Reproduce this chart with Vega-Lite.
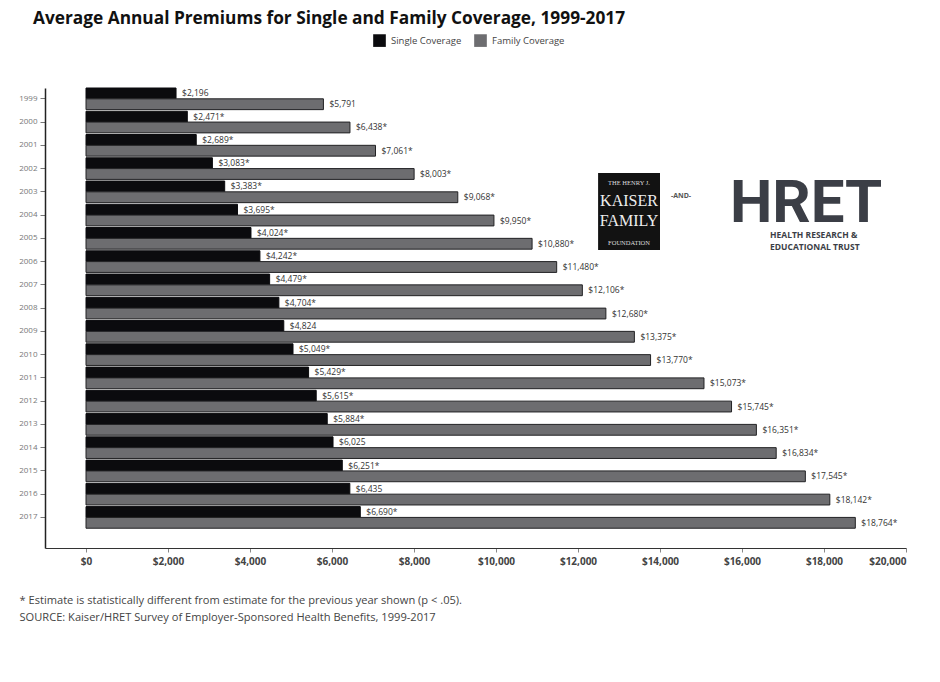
{
  "$schema": "https://vega.github.io/schema/vega-lite/v6.json",
  "autosize": {"type": "none"},
  "width": 861,
  "height": 460,
  "padding": {"left": 45, "top": 88, "right": 34, "bottom": 134},
  "background": "white",
  "title": {
    "text": "Average Annual Premiums for Single and Family Coverage, 1999-2017",
    "anchor": "start",
    "frame": "group",
    "dx": -12,
    "offset": 7,
    "font": "Open Sans",
    "fontSize": 17.3,
    "fontWeight": "bold",
    "color": "#111"
  },
  "config": {
    "view": {"stroke": null},
    "font": "Open Sans"
  },
  "layer": [
    {
      "data": {
        "values": [
          {"year": "1999", "series": "Single Coverage", "value": 2196, "label": "$2,196"},
          {"year": "1999", "series": "Family Coverage", "value": 5791, "label": "$5,791"},
          {"year": "2000", "series": "Single Coverage", "value": 2471, "label": "$2,471*"},
          {"year": "2000", "series": "Family Coverage", "value": 6438, "label": "$6,438*"},
          {"year": "2001", "series": "Single Coverage", "value": 2689, "label": "$2,689*"},
          {"year": "2001", "series": "Family Coverage", "value": 7061, "label": "$7,061*"},
          {"year": "2002", "series": "Single Coverage", "value": 3083, "label": "$3,083*"},
          {"year": "2002", "series": "Family Coverage", "value": 8003, "label": "$8,003*"},
          {"year": "2003", "series": "Single Coverage", "value": 3383, "label": "$3,383*"},
          {"year": "2003", "series": "Family Coverage", "value": 9068, "label": "$9,068*"},
          {"year": "2004", "series": "Single Coverage", "value": 3695, "label": "$3,695*"},
          {"year": "2004", "series": "Family Coverage", "value": 9950, "label": "$9,950*"},
          {"year": "2005", "series": "Single Coverage", "value": 4024, "label": "$4,024*"},
          {"year": "2005", "series": "Family Coverage", "value": 10880, "label": "$10,880*"},
          {"year": "2006", "series": "Single Coverage", "value": 4242, "label": "$4,242*"},
          {"year": "2006", "series": "Family Coverage", "value": 11480, "label": "$11,480*"},
          {"year": "2007", "series": "Single Coverage", "value": 4479, "label": "$4,479*"},
          {"year": "2007", "series": "Family Coverage", "value": 12106, "label": "$12,106*"},
          {"year": "2008", "series": "Single Coverage", "value": 4704, "label": "$4,704*"},
          {"year": "2008", "series": "Family Coverage", "value": 12680, "label": "$12,680*"},
          {"year": "2009", "series": "Single Coverage", "value": 4824, "label": "$4,824"},
          {"year": "2009", "series": "Family Coverage", "value": 13375, "label": "$13,375*"},
          {"year": "2010", "series": "Single Coverage", "value": 5049, "label": "$5,049*"},
          {"year": "2010", "series": "Family Coverage", "value": 13770, "label": "$13,770*"},
          {"year": "2011", "series": "Single Coverage", "value": 5429, "label": "$5,429*"},
          {"year": "2011", "series": "Family Coverage", "value": 15073, "label": "$15,073*"},
          {"year": "2012", "series": "Single Coverage", "value": 5615, "label": "$5,615*"},
          {"year": "2012", "series": "Family Coverage", "value": 15745, "label": "$15,745*"},
          {"year": "2013", "series": "Single Coverage", "value": 5884, "label": "$5,884*"},
          {"year": "2013", "series": "Family Coverage", "value": 16351, "label": "$16,351*"},
          {"year": "2014", "series": "Single Coverage", "value": 6025, "label": "$6,025"},
          {"year": "2014", "series": "Family Coverage", "value": 16834, "label": "$16,834*"},
          {"year": "2015", "series": "Single Coverage", "value": 6251, "label": "$6,251*"},
          {"year": "2015", "series": "Family Coverage", "value": 17545, "label": "$17,545*"},
          {"year": "2016", "series": "Single Coverage", "value": 6435, "label": "$6,435"},
          {"year": "2016", "series": "Family Coverage", "value": 18142, "label": "$18,142*"},
          {"year": "2017", "series": "Single Coverage", "value": 6690, "label": "$6,690*"},
          {"year": "2017", "series": "Family Coverage", "value": 18764, "label": "$18,764*"}
        ]
      },
      "encoding": {
        "y": {
          "field": "year",
          "type": "nominal",
          "scale": {"type": "band", "paddingInner": 0.07, "paddingOuter": 0.425, "align": 0},
          "axis": {
            "title": null,
            "labelFontSize": 8,
            "labelColor": "#777",
            "labelPadding": 3,
            "tickColor": "#777",
            "tickSize": 5,
            "domainColor": "#222",
            "domainWidth": 1.5
          }
        },
        "yOffset": {"field": "series", "type": "nominal", "sort": ["Single Coverage", "Family Coverage"], "scale": {"paddingInner": 0, "paddingOuter": 0}},
        "x": {
          "field": "value",
          "type": "quantitative",
          "scale": {"domain": [-1000, 20000], "nice": false, "zero": false},
          "axis": {
            "values": [0, 2000, 4000, 6000, 8000, 10000, 12000, 14000, 16000, 18000, 20000],
            "labelExpr": "'$' + format(datum.value, ',')",
            "labelFontSize": 10,
            "labelFontWeight": "bold",
            "labelColor": "#444",
            "labelPadding": 4,
            "tickColor": "#888",
            "tickSize": 4,
            "grid": false,
            "domainColor": "#333",
            "domainWidth": 1.2,
            "title": ["* Estimate is statistically different from estimate for the previous year shown (p < .05).", "SOURCE: Kaiser/HRET Survey of Employer-Sponsored Health Benefits, 1999-2017"],
            "titleAnchor": "start",
            "titleAlign": "left",
            "titleBaseline": "top",
            "titleX": -26,
            "titleY": 46,
            "titleFontSize": 11.1,
            "titleFontWeight": "normal",
            "titleColor": "#444",
            "titleLineHeight": 17
          }
        }
      },
      "layer": [
        {
          "mark": {"type": "bar", "strokeWidth": 1},
          "encoding": {
            "x2": {"datum": 0},
            "color": {
              "field": "series",
              "type": "nominal",
              "scale": {"domain": ["Single Coverage", "Family Coverage"], "range": ["#0b0b0e", "#6d6d70"]},
              "legend": {
                "title": null,
                "orient": "none",
                "legendX": 328,
                "legendY": -54,
                "direction": "horizontal",
                "symbolType": "square",
                "symbolSize": 160,
                "symbolStrokeWidth": 0,
                "labelFontSize": 9.5,
                "labelColor": "#444",
                "columnPadding": 12,
                "labelOffset": 5
              }
            },
            "stroke": {
              "field": "series",
              "type": "nominal",
              "scale": {"domain": ["Single Coverage", "Family Coverage"], "range": ["#0b0b0e", "#222224"]},
              "legend": null
            }
          }
        },
        {
          "mark": {"type": "text", "align": "left", "baseline": "middle", "dx": 6, "fontSize": 8.5, "color": "#333"},
          "encoding": {"text": {"field": "label"}}
        }
      ]
    },
    {
      "data": {"values": [{}]},
      "layer": [
        {
          "mark": {"type": "rect", "color": "#121212"},
          "encoding": {
            "x": {"datum": 12490, "type": "quantitative"},
            "x2": {"datum": 14000},
            "y": {"datum": 81.5, "type": "quantitative", "scale": {"domain": [0, 100]}, "axis": null},
            "y2": {"datum": 64.8}
          }
        },
        {
          "mark": {"type": "text", "text": "THE HENRY J.", "font": "Liberation Serif", "fontSize": 6.5, "color": "#ddd", "baseline": "middle"},
          "encoding": {"x": {"datum": 13244, "type": "quantitative"}, "y": {"datum": 79.3, "type": "quantitative"}}
        },
        {
          "mark": {"type": "text", "text": "KAISER", "font": "Liberation Serif", "fontSize": 16, "color": "#eee", "baseline": "middle"},
          "encoding": {"x": {"datum": 13244, "type": "quantitative"}, "y": {"datum": 75.4, "type": "quantitative"}}
        },
        {
          "mark": {"type": "text", "text": "FAMILY", "font": "Liberation Serif", "fontSize": 16, "color": "#eee", "baseline": "middle"},
          "encoding": {"x": {"datum": 13244, "type": "quantitative"}, "y": {"datum": 71.1, "type": "quantitative"}}
        },
        {
          "mark": {"type": "text", "text": "FOUNDATION", "font": "Liberation Serif", "fontSize": 6.5, "color": "#ddd", "baseline": "middle"},
          "encoding": {"x": {"datum": 13244, "type": "quantitative"}, "y": {"datum": 66.3, "type": "quantitative"}}
        },
        {
          "mark": {"type": "text", "text": "-AND-", "fontSize": 7, "fontWeight": "bold", "color": "#555", "baseline": "middle"},
          "encoding": {"x": {"datum": 14512, "type": "quantitative"}, "y": {"datum": 76.5, "type": "quantitative"}}
        },
        {
          "mark": {"type": "text", "text": "HRET", "font": "Roboto", "fontSize": 60, "fontWeight": "bold", "color": "#3b3e46", "align": "left", "baseline": "alphabetic"},
          "encoding": {"x": {"datum": 15707, "type": "quantitative"}, "y": {"datum": 70.9, "type": "quantitative"}}
        },
        {
          "mark": {"type": "text", "text": "HEALTH RESEARCH &", "fontSize": 8.5, "fontWeight": "bold", "color": "#3b3e46", "align": "left", "baseline": "middle"},
          "encoding": {"x": {"datum": 16683, "type": "quantitative"}, "y": {"datum": 68.1, "type": "quantitative"}}
        },
        {
          "mark": {"type": "text", "text": "EDUCATIONAL TRUST", "fontSize": 8.5, "fontWeight": "bold", "color": "#3b3e46", "align": "left", "baseline": "middle"},
          "encoding": {"x": {"datum": 16683, "type": "quantitative"}, "y": {"datum": 65.5, "type": "quantitative"}}
        }
      ]
    }
  ],
  "resolve": {"scale": {"y": "independent"}, "axis": {"y": "independent"}}
}
